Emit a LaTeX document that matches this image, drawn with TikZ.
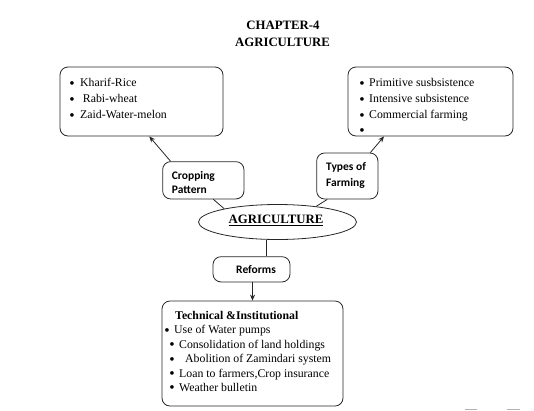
\documentclass[tikz,border=0pt]{standalone}
\usepackage{fontspec}
\setmainfont{Liberation Serif}
\newfontfamily\carlito{Carlito}
\usetikzlibrary{shapes.geometric,arrows.meta}
\tikzset{
  box/.style={draw=black!85, line width=0.8pt, rounded corners=8pt, inner sep=0pt},
  txt/.style={inner sep=0pt, anchor=base west, font=\fontsize{11.8}{14}\selectfont},
  lbl/.style={inner sep=0pt, anchor=base west, font=\carlito\bfseries\fontsize{11.5}{14}\selectfont},
  ttl/.style={inner sep=0pt, anchor=base, font=\bfseries\fontsize{12.8}{14}\selectfont},
  conn/.style={draw=black!85, line width=0.8pt},
  arr/.style={conn, -{Stealth[length=6pt,width=5pt]}}
}
\newcommand{\bl}[1]{\makebox[#1][l]{\raisebox{-1.6pt}{\scalebox{1.3}{•}}}}
\begin{document}
\begin{tikzpicture}[x=1pt,y=-1pt]
\useasboundingbox (0,0) rectangle (534,410);
% title
\node[ttl] (t1) at (283,29.5) {CHAPTER-4};
\node[ttl] (t2) at (282.5,46) {AGRICULTURE};
% top-left box
\node[box, minimum width=163, minimum height=69] (tl) at (141.5,101.5) {};
\node[txt] (tl1) at (69.2,86.5) {\bl{10.8pt}Kharif-Rice};
\node[txt] (tl2) at (69.2,102.5) {\bl{13.5pt}Rabi-wheat};
\node[txt] (tl3) at (69.2,118.5) {\bl{10.8pt}Zaid-Water-melon};
% top-right box
\node[box, minimum width=165, minimum height=69] (tr) at (430.5,101.5) {};
\node[txt] (tr1) at (359.2,86.5) {\bl{9.8pt}Primitive susbsistence};
\node[txt] (tr2) at (359.2,102.5) {\bl{9.8pt}Intensive subsistence};
\node[txt] (tr3) at (359.2,118.5) {\bl{9.8pt}Commercial farming};
\node[txt] (tr4) at (359.2,134) {\bl{4pt}};
% cropping pattern
\node[box, minimum width=81.3, minimum height=37.3] (cp) at (203.3,180.3) {};
\node[lbl] (cp1) at (171.7,179) {Cropping};
\node[lbl] (cp2) at (171.7,193) {Pattern};
% types of farming
\node[box, minimum width=61.3, minimum height=46] (tf) at (347.3,176) {};
\node[lbl] (tf1) at (326,170) {Types of};
\node[lbl] (tf2) at (326,186.7) {Farming};
% ellipse
\node[draw=black!85, line width=0.8pt, ellipse, minimum width=158, minimum height=35, inner sep=0pt] (ell) at (277.5,222) {};
\node[ttl] (agr) at (276,223.5) {\underline{AGRICULTURE}};
% reforms
\node[box, minimum width=77, minimum height=25.3] (rf) at (251.5,269.3) {};
\node[lbl] (rf1) at (236,273) {Reforms};
% bottom box
\node[box, minimum width=181, minimum height=105] (bb) at (252.5,353.5) {};
\node[txt, font=\bfseries\fontsize{11.8}{14}\selectfont] (bb0) at (175,319) {Technical \&Institutional};
\node[txt] (bb1) at (164.2,333.5) {\bl{9.8pt}Use of Water pumps};
\node[txt] (bb2) at (169.2,348) {\bl{9.8pt}Consolidation of land holdings};
\node[txt] (bb3) at (169.2,362.5) {\bl{15.8pt}Abolition of Zamindari system};
\node[txt] (bb4) at (169.2,377) {\bl{9.8pt}Loan to farmers,Crop insurance};
\node[txt] (bb5) at (169.2,391) {\bl{9.8pt}Weather bulletin};
% connectors
\draw[arr] ([xshift=8.3]cp.north west) -- ([xshift=7.8]tl.south);
\draw[conn] ([xshift=-31]cp.south east) -- (ell.166);
\draw[arr] ([xshift=-8]tf.north east) -- ([xshift=-46.5]tr.south);
\draw[conn] ([xshift=11]tf.south west) -- (ell.22);
\coordinate (rfin) at ([xshift=15.2]rf.north);
\draw[conn] (ell.south -| rfin) -- (rfin);
\draw[arr] ([xshift=1]rf.south) -- (bb.north);
% faint marks at bottom edge
\draw[gray!60, line width=1pt] (465,409.5) -- (477,409.5);
\draw[gray!60, line width=1pt] (507,409.5) -- (520,409.5);
\end{tikzpicture}
\end{document}
